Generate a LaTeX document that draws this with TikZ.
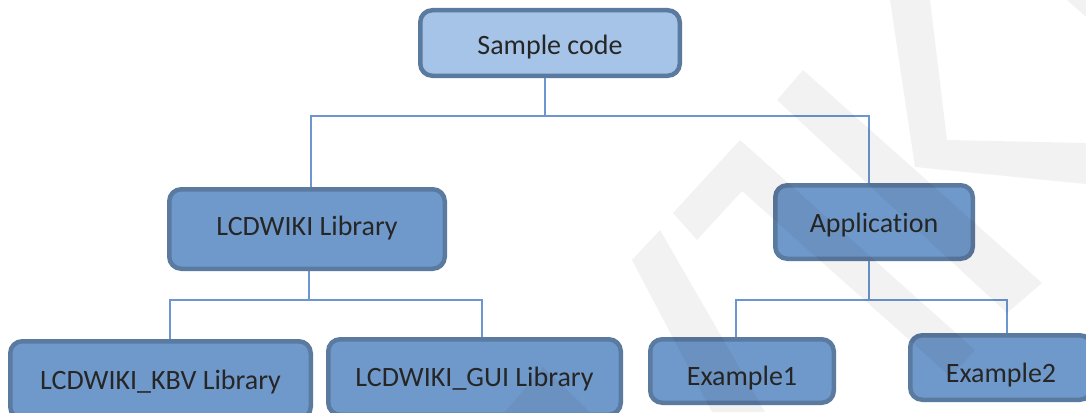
\documentclass[tikz,border=0pt]{standalone}
\usepackage{fontspec}
\setmainfont[Ligatures=NoCommon]{Carlito}
\usetikzlibrary{backgrounds}
\definecolor{topfill}{HTML}{A6C3E8}
\definecolor{boxfill}{HTML}{7099CB}
\definecolor{boxline}{HTML}{5B7AA0}
\definecolor{connline}{HTML}{6B96CF}
\definecolor{txt}{HTML}{262626}
\tikzset{
  box/.style={draw=boxline, fill=boxfill, line width=4.5pt, rounded corners=12pt,
    inner sep=0pt, font=\fontsize{28}{32}\selectfont, text=txt, text depth=6pt},
  topbox/.style={box, fill=topfill},
  conn/.style={draw=connline, line width=1.6pt},
  wmark/.style={fill=black, fill opacity=0.05, draw=none}
}
\begin{document}
\begin{tikzpicture}[x=1pt,y=-1pt]
\useasboundingbox (0,0) rectangle (1086,412);
\clip (0,0) rectangle (1086,412);
% boxes
\node[topbox, minimum width=259.5pt, minimum height=65.5pt, text height=30pt] (sample) at (550,43) {Sample code};
\node[box, minimum width=275.5pt, minimum height=79.5pt, text height=19pt] (lib) at (307,229) {LCDWIKI Library};
\node[box, minimum width=197.5pt, minimum height=73.5pt, text height=27pt] (app) at (874,222) {Application};
\node[box, minimum width=300.5pt, minimum height=77.5pt, text height=25pt] (kbv) at (160.5,380) {LCDWIKI\_KBV Library};
\node[box, minimum width=292.5pt, minimum height=75.5pt, text height=24pt] (gui) at (474.5,377) {LCDWIKI\_GUI Library};
\node[box, minimum width=183.5pt, minimum height=63.5pt, text height=35pt] (ex1) at (742,371) {Example1};
\node[box, minimum width=181.5pt, minimum height=64.5pt, text height=35pt] (ex2) at (1001,367.5) {Example2};
% connectors
\coordinate (j1) at (545,116);
\coordinate (j2) at (309,300);
\coordinate (j3) at (869,300);
\begin{pgfonlayer}{background}
\fill[white] (0,0) rectangle (1086,412);
\draw[conn] ([xshift=-5pt]sample.south) -- (j1);
\draw[conn] ([xshift=4pt]lib.north) |- (j1) -| ([xshift=-5pt]app.north);
\draw[conn] ([xshift=2pt]lib.south) -- (j2);
\draw[conn] ([xshift=9.5pt]kbv.north) |- (j2) -| ([xshift=7.5pt]gui.north);
\draw[conn] ([xshift=-5pt]app.south) -- (j3);
\draw[conn] ([xshift=-6pt]ex1.north) |- (j3) -| ([xshift=6pt]ex2.north);
\end{pgfonlayer}
% watermark
\fill[wmark] (890,0) -- (930,0) -- (947,140) -- (1086,143) -- (1086,184) -- (915,167) -- cycle;
\fill[wmark] (1067,0) -- (1086,0) -- (1086,17) -- cycle;
\fill[wmark] (777,100) -- (803,70) -- (1042,283) -- (1007,313) -- cycle;
\fill[wmark] (673,213) -- (740,140) -- (975,350) -- (951,377) -- (742,191) -- (697,240) -- cycle;
\fill[wmark] (632,260) -- (660,230) -- (765,412) -- (712,412) -- cycle;
\fill[wmark] (505,412) -- (543,367) -- (590,412) -- cycle;
\end{tikzpicture}
\end{document}
